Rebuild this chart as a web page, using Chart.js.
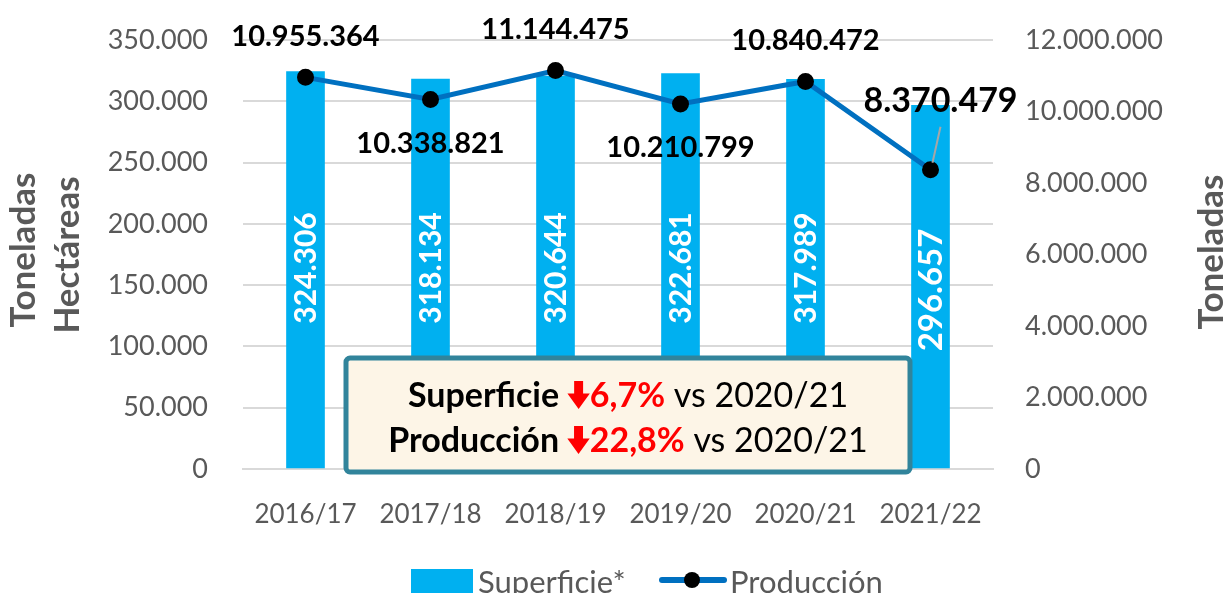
<!DOCTYPE html>
<html>
<head>
    <title>Superficie y Producción</title>
    <script src="https://cdn.jsdelivr.net/npm/chart.js"></script>
    <style>
        html, body { margin: 0; padding: 0; background: #fff; }
        .chart-container { position: relative; width: 1230px; height: 593px; }
    </style>
</head>
<body>
    <div class="chart-container">
        <canvas id="mainChart"></canvas>
    </div>

    <script>
        const FONT = 'Lato, "Open Sans", sans-serif';

        const campaigns = ['2016/17', '2017/18', '2018/19', '2019/20', '2020/21', '2021/22'];
        const superficie = [324306, 318134, 320644, 322681, 317989, 296657];
        const produccion = [10955364, 10338821, 11144475, 10210799, 10840472, 8370479];

        // where each production label goes relative to its point (above / below)
        const labelSide = ['up', 'down', 'up', 'down', 'up', 'up'];

        const fmt = v => v.toString().replace(/\B(?=(\d{3})+(?!\d))/g, '.');

        function drawArrow(ctx, x, y, h, color) {
            // thick down arrow, x = left edge, y = top
            const w = h * 0.8;
            ctx.save();
            ctx.fillStyle = color;
            ctx.beginPath();
            ctx.moveTo(x + w * 0.3, y);
            ctx.lineTo(x + w * 0.7, y);
            ctx.lineTo(x + w * 0.7, y + h * 0.45);
            ctx.lineTo(x + w, y + h * 0.45);
            ctx.lineTo(x + w * 0.5, y + h);
            ctx.lineTo(x, y + h * 0.45);
            ctx.lineTo(x + w * 0.3, y + h * 0.45);
            ctx.closePath();
            ctx.fill();
            ctx.restore();
            return w;
        }

        const overlay = {
            id: 'overlay',
            afterDatasetsDraw(chart) {
                const ctx = chart.ctx;
                const barMeta = chart.getDatasetMeta(0);
                const lineMeta = chart.getDatasetMeta(1);

                // values inside bars
                ctx.save();
                ctx.fillStyle = '#ffffff';
                ctx.textAlign = 'center';
                ctx.textBaseline = 'middle';
                barMeta.data.forEach((bar, i) => {
                    const last = i === superficie.length - 1;
                    ctx.save();
                    ctx.translate(bar.x + 1, last ? 290 : 268);
                    ctx.rotate(-Math.PI / 2);
                    ctx.font = 'bold ' + (last ? 33 : 30) + 'px ' + FONT;
                    ctx.fillText(fmt(superficie[i]), 0, 0);
                    ctx.restore();
                });
                ctx.restore();

                // production labels
                ctx.save();
                ctx.fillStyle = '#000000';
                ctx.textAlign = 'center';
                ctx.textBaseline = 'middle';
                lineMeta.data.forEach((pt, i) => {
                    const last = i === produccion.length - 1;
                    ctx.font = 'bold ' + (last ? 34 : 29) + 'px ' + FONT;
                    let x = pt.x, y;
                    if (last) {
                        x = pt.x + 10;
                        y = pt.y - 69;
                        ctx.strokeStyle = '#a6a6a6';
                        ctx.lineWidth = 2;
                        ctx.beginPath();
                        ctx.moveTo(pt.x + 10, pt.y - 43);
                        ctx.lineTo(pt.x + 2, pt.y - 7);
                        ctx.stroke();
                    } else {
                        y = labelSide[i] === 'up' ? pt.y - 41 : pt.y + 44;
                    }
                    ctx.fillText(fmt(produccion[i]), x, y);
                });
                ctx.restore();
            },
            afterDraw(chart) {
                const ctx = chart.ctx;

                // axis titles
                ctx.save();
                ctx.fillStyle = '#595959';
                ctx.font = 'bold 35px ' + FONT;
                ctx.textAlign = 'center';
                ctx.textBaseline = 'middle';
                [[24, 250, 'Toneladas', 170], [68, 255, 'Hectáreas', 0], [1212, 252, 'Toneladas', 0]].forEach(([x, y, t, clipTop]) => {
                    ctx.save();
                    if (clipTop) {
                        ctx.beginPath();
                        ctx.rect(0, clipTop, 50, 400);
                        ctx.clip();
                    }
                    ctx.translate(x, y);
                    ctx.rotate(-Math.PI / 2);
                    ctx.fillText(t, 0, 0);
                    ctx.restore();
                });
                ctx.restore();

                // summary box
                const bx = 346, by = 358, bw = 564, bh = 114;
                ctx.save();
                ctx.fillStyle = '#FDF5E7';
                ctx.strokeStyle = '#31849B';
                ctx.lineWidth = 5;
                ctx.beginPath();
                ctx.roundRect(bx, by, bw, bh, 4);
                ctx.fill();
                ctx.stroke();

                const rows = [
                    ['Superficie ', '6,7%', 396],
                    ['Producción ', '22,8%', 441]
                ];
                ctx.textBaseline = 'middle';
                ctx.textAlign = 'left';
                rows.forEach(([name, pct, y]) => {
                    const bold = 'bold 34px ' + FONT;
                    const reg = '34px ' + FONT;
                    ctx.font = bold;
                    const w1 = ctx.measureText(name).width;
                    const w2 = ctx.measureText(pct).width;
                    ctx.font = reg;
                    const w3 = ctx.measureText(' vs 2020/21').width;
                    const ah = 28;
                    const aw = ah * 0.8;
                    const total = w1 + aw + w2 + w3;
                    let x = bx + bw / 2 - total / 2;
                    ctx.font = bold;
                    ctx.fillStyle = '#000';
                    ctx.fillText(name, x, y);
                    x += w1;
                    drawArrow(ctx, x, y - 15, ah, '#FF0000');
                    x += aw;
                    ctx.fillStyle = '#FF0000';
                    ctx.fillText(pct, x, y);
                    x += w2;
                    ctx.font = reg;
                    ctx.fillStyle = '#000';
                    ctx.fillText(' vs 2020/21', x, y);
                });
                ctx.restore();

                // legend
                ctx.save();
                ctx.fillStyle = '#00B0F0';
                ctx.fillRect(411, 569, 62, 24);
                ctx.strokeStyle = '#0070C0';
                ctx.lineWidth = 6;
                ctx.lineCap = 'round';
                ctx.beginPath();
                ctx.moveTo(662, 580);
                ctx.lineTo(724, 580);
                ctx.stroke();
                ctx.fillStyle = '#000';
                ctx.beginPath();
                ctx.arc(692, 580, 8, 0, Math.PI * 2);
                ctx.fill();
                ctx.fillStyle = '#595959';
                ctx.font = '31px ' + FONT;
                ctx.textBaseline = 'middle';
                ctx.textAlign = 'left';
                ctx.fillText(chart.data.datasets[0].label, 478, 583);
                ctx.fillText(chart.data.datasets[1].label, 730, 583);
                ctx.restore();
            }
        };

        const noPad = scale => { scale.paddingTop = 0; scale.paddingBottom = 0; };

        const ctx = document.getElementById('mainChart').getContext('2d');
        const chart = new Chart(ctx, {
            type: 'bar',
            data: {
                labels: campaigns,
                datasets: [{
                    label: 'Superficie*',
                    data: superficie,
                    backgroundColor: '#00B0F0',
                    barThickness: 38,
                    yAxisID: 'y',
                    order: 2
                }, {
                    label: 'Producción',
                    type: 'line',
                    data: produccion,
                    borderColor: '#0070C0',
                    borderWidth: 5,
                    pointBackgroundColor: '#000',
                    pointBorderColor: '#000',
                    pointRadius: 6,
                    tension: 0,
                    yAxisID: 'y1',
                    order: 1
                }]
            },
            options: {
                responsive: true,
                maintainAspectRatio: false,
                animation: false,
                layout: { padding: { top: 40, left: 0, right: 0, bottom: 0 } },
                plugins: {
                    legend: { display: false },
                    tooltip: { enabled: false }
                },
                scales: {
                    x: {
                        grid: { display: false },
                        border: { color: '#d9d9d9', width: 2 },
                        ticks: {
                            color: '#595959',
                            font: { family: FONT, size: 26 },
                            padding: 22,
                            maxRotation: 0
                        },
                        afterFit(scale) { scale.height = 124; }
                    },
                    y: {
                        position: 'left',
                        min: 0,
                        max: 350000,
                        grid: { color: '#d9d9d9', lineWidth: 2, drawTicks: false },
                        border: { display: false },
                        ticks: {
                            stepSize: 50000,
                            color: '#595959',
                            font: { family: FONT, size: 27 },
                            padding: 35,
                            callback: v => fmt(v)
                        },
                        afterFit(scale) { scale.width = 243; noPad(scale); }
                    },
                    y1: {
                        position: 'right',
                        min: 0,
                        max: 12000000,
                        grid: { display: false, drawTicks: false },
                        border: { display: false },
                        ticks: {
                            stepSize: 2000000,
                            color: '#595959',
                            font: { family: FONT, size: 27 },
                            padding: 32,
                            callback: v => fmt(v)
                        },
                        afterFit(scale) { scale.width = 237; noPad(scale); }
                    }
                }
            },
            plugins: [overlay]
        });
    </script>
</body>
</html>
